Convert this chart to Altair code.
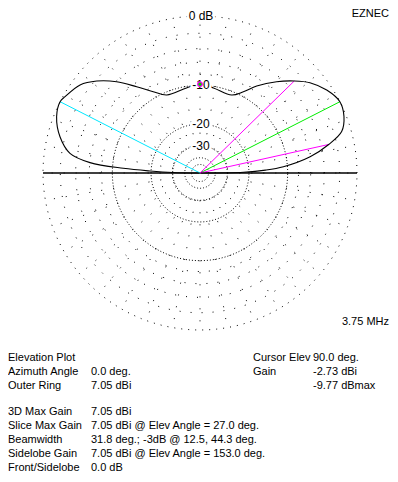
import altair as alt
import pandas as pd

# ---- pattern (elevation angle deg, gain dB relative to outer ring) ----
RIGHT_ANG = [0, 1, 2.5, 4.3, 8.4, 12.5, 16.3, 21.4, 27, 33.2, 39.4, 44.3, 50, 56.9, 61.9, 67.9, 81, 90]
RIGHT_DB = [-99, -22, -15, -10.8, -5.9, -3.0, -1.06, -0.26, 0.0, -0.62, -1.69, -3.0, -4.73, -7.1, -9.15, -10.7, -10.3, -9.77]
LEFT_ANG = [99, 113.1, 119.9, 126.3, 132.4, 138.3, 143.7, 150.5, 153, 158.6, 165.5, 171.4, 174.6, 176.5, 177.7, 179, 180]
LEFT_DB = [-10.3, -10.57, -8.84, -6.58, -4.1, -2.18, -0.92, -0.22, 0.0, -0.33, -1.41, -3.04, -6.03, -12.27, -19.6, -30, -99]

# marker lines from origin
MARK_ANG = [153.0, 27.0, 12.5, 44.3]
MARK_DB = [0.0, 0.0, -3.0, -3.0]
MARK_COL = ["#00e8ff", "#00ee00", "#ff00ff", "#ff00ff"]

CURSOR_ANG = [90.0]
CURSOR_DB = [-9.77]

# grid
MAJOR_RINGS = [-10, -20, -30, -40, -50]
MINOR_RINGS = [-2, -4, -6, -8]
OUTER_RING = [0]
SPOKE_ANG = list(range(0, 360, 10))
RING_LABELS = ["0 dB", "-10", "-20", "-30"]
RING_LABEL_DB = [0, -10, -20, -30]

PX = 157.0  # pixels per unit radius
XS = alt.Scale(domain=[-192 / PX, 190 / PX], nice=False, zero=False)
YS = alt.Scale(domain=[-301 / PX, 165 / PX], nice=False, zero=False)
RAD = "pow(0.89, -datum.db/2)"

def polar(ch):
    return ch.transform_calculate(r=RAD).transform_calculate(
        x="datum.r*cos(datum.ang*PI/180)", y="datum.r*sin(datum.ang*PI/180)")

def XY():
    return dict(x=alt.X("x:Q", scale=XS, axis=None), y=alt.Y("y:Q", scale=YS, axis=None))

pattern = pd.DataFrame({"ang": RIGHT_ANG + LEFT_ANG, "db": RIGHT_DB + LEFT_DB})
pattern["i"] = range(len(pattern))

ring_angles = list(range(0, 362, 2))
def ring_df(levels):
    rows = [(lv, a, k) for lv in levels for k, a in enumerate(ring_angles)]
    return pd.DataFrame(rows, columns=["db", "ang", "k"])

def ring_layer(levels, dash, opacity=1.0):
    return polar(alt.Chart(ring_df(levels))).mark_line(
        color="black", strokeWidth=1, strokeDash=dash, opacity=opacity
    ).encode(**XY(), detail="db:N", order="k:Q")

major = ring_layer(MAJOR_RINGS, [1, 2])
minor = ring_layer(MINOR_RINGS, [1, 10])
outer = ring_layer(OUTER_RING, [1, 6])

spokes = alt.Chart(pd.DataFrame({"ang": SPOKE_ANG})).transform_calculate(
    x="pow(0.89,15)*cos(datum.ang*PI/180)", y="pow(0.89,15)*sin(datum.ang*PI/180)",
    xe="cos(datum.ang*PI/180)", ye="sin(datum.ang*PI/180)"
).mark_rule(color="black", strokeWidth=1, strokeDash=[1, 11]).encode(
    **XY(), x2="xe:Q", y2="ye:Q")

horizon = alt.Chart(pd.DataFrame({"a": [-1.0], "b": [1.0]})).transform_calculate(
    y0="0").mark_rule(color="black", strokeWidth=1.4).encode(
    x=alt.X("a:Q", scale=XS, axis=None), x2="b:Q", y=alt.Y("y0:Q", scale=YS, axis=None))

marks = polar(alt.Chart(pd.DataFrame({"ang": MARK_ANG, "db": MARK_DB, "col": MARK_COL}))).transform_calculate(
    zx="0", zy="0").mark_rule(strokeWidth=1).encode(
    x=alt.X("zx:Q", scale=XS, axis=None), y=alt.Y("zy:Q", scale=YS, axis=None),
    x2="x:Q", y2="y:Q", color=alt.Color("col:N", scale=None))

pat = polar(alt.Chart(pattern)).mark_line(
    color="black", strokeWidth=1.1, interpolate="catmull-rom").encode(**XY(), order="i:Q")

cursor = polar(alt.Chart(pd.DataFrame({"ang": CURSOR_ANG, "db": CURSOR_DB}))).mark_point(
    shape="circle", filled=True, size=22, color="#00cc00", stroke="#ff00ff", strokeWidth=1.2, opacity=1
).encode(**XY())

lab_df = pd.DataFrame({"t": RING_LABELS, "db": RING_LABEL_DB, "ang": [90] * 4})
halo = polar(alt.Chart(lab_df)).mark_text(
    font="Liberation Sans", fontSize=12, color="white", stroke="white", strokeWidth=5,
    baseline="middle", align="center", dx=1).encode(**XY(), text="t:N")
labs = polar(alt.Chart(lab_df)).mark_text(
    font="Liberation Sans", fontSize=12, color="black",
    baseline="middle", align="center", dx=1).encode(**XY(), text="t:N")

def block(text, x, y, align="left"):
    return alt.Chart(pd.DataFrame({"t": [text]})).mark_text(
        font="Liberation Sans", fontSize=11, color="black", align=align, baseline="top",
        lineBreak="\n", lineHeight=14).encode(x=alt.value(x), y=alt.value(y), text="t:N")

texts = [
    block("EZNEC", 381, 0, "right"),
    block("3.75 MHz", 381, 308, "right"),
    block("Elevation Plot\nAzimuth Angle\nOuter Ring", 0, 344),
    block("0.0 deg.\n7.05 dBi", 83, 358),
    block("3D Max Gain\nSlice Max Gain\nBeamwidth\nSidelobe Gain\nFront/Sidelobe", 0, 398),
    block("7.05 dBi\n7.05 dBi @ Elev Angle = 27.0 deg.\n31.8 deg.; -3dB @ 12.5, 44.3 deg.\n"
          "7.05 dBi @ Elev Angle = 153.0 deg.\n0.0 dB", 83, 398),
    block("Cursor Elev\nGain", 245, 344),
    block("90.0 deg.\n-2.73 dBi\n-9.77 dBmax", 305, 344),
]

chart = alt.layer(minor, outer, spokes, major, horizon, marks, pat, halo, labs, cursor, *texts).properties(
    width=382, height=466, padding=0, autosize="none", background="white"
).configure_view(stroke=None)

chart.save("out.html", embed_options={"renderer": "svg", "actions": False})
